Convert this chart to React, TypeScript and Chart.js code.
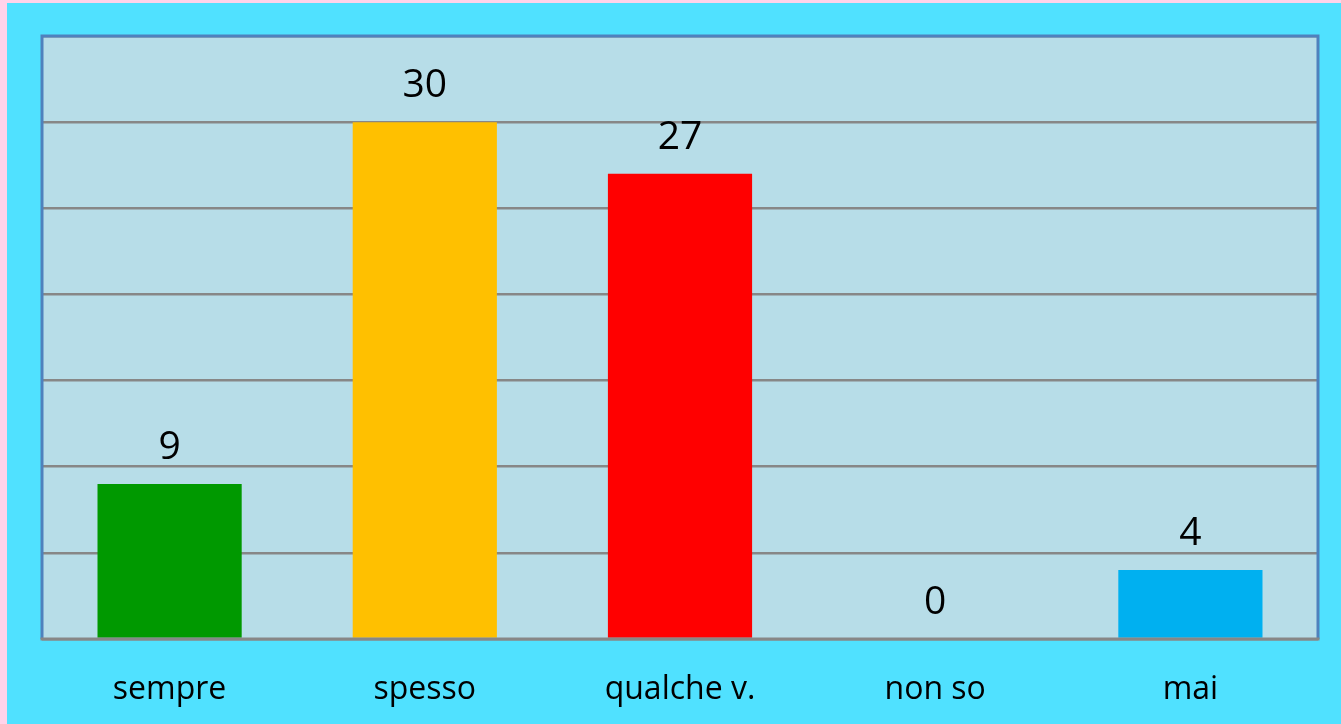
import React, { useEffect, useRef } from "react";
import { Chart, registerables } from "chart.js";

Chart.register(...registerables);

const categories = ["sempre", "spesso", "qualche v.", "non so", "mai"];
const values = [9, 30, 27, 0, 4];
const barColors = ["#009900", "#FFC000", "#FF0000", "#00B0F0", "#00B0F0"];
const yTicks = [0, 5, 10, 15, 20, 25, 30, 35];

const FONT = "'Open Sans', sans-serif";

const bgPlugin = {
  id: "bgPlugin",
  beforeDraw(chart: any) {
    const { ctx, width, height, chartArea } = chart;
    ctx.save();
    ctx.fillStyle = "#FFD3EA";
    ctx.fillRect(0, 0, width, height);
    ctx.fillStyle = "#50E1FF";
    ctx.fillRect(7, 3, width - 7, height - 3);
    ctx.fillStyle = "#B7DDE8";
    ctx.fillRect(chartArea.left, chartArea.top, chartArea.right - chartArea.left, chartArea.bottom - chartArea.top);
    ctx.restore();
  },
  afterDatasetsDraw(chart: any) {
    const { ctx, chartArea } = chart;
    const meta = chart.getDatasetMeta(0);
    ctx.save();
    ctx.fillStyle = "#000000";
    ctx.font = `39px ${FONT}`;
    ctx.textAlign = "center";
    ctx.textBaseline = "alphabetic";
    meta.data.forEach((bar: any, i: number) => {
      ctx.fillText(String(values[i]), bar.x, bar.y - 25);
    });
    ctx.lineWidth = 3;
    ctx.strokeStyle = "#4F81BD";
    ctx.beginPath();
    ctx.moveTo(chartArea.left, chartArea.bottom);
    ctx.lineTo(chartArea.left, chartArea.top);
    ctx.lineTo(chartArea.right, chartArea.top);
    ctx.lineTo(chartArea.right, chartArea.bottom);
    ctx.stroke();
    ctx.strokeStyle = "#878787";
    ctx.beginPath();
    ctx.moveTo(chartArea.left - 1.5, chartArea.bottom);
    ctx.lineTo(chartArea.right + 1.5, chartArea.bottom);
    ctx.stroke();
    ctx.restore();
  },
};

export default function App() {
  const ref = useRef<HTMLCanvasElement>(null);
  useEffect(() => {
    document.body.style.margin = "0";
    document.body.style.overflow = "hidden";
    const chart = new Chart(ref.current!, {
      type: "bar",
      data: {
        labels: categories,
        datasets: [
          {
            data: values,
            backgroundColor: barColors,
            barPercentage: 0.565,
            categoryPercentage: 1,
          },
        ],
      },
      options: {
        responsive: false,
        animation: false,
        layout: { padding: { left: 42, right: 23, top: 36, bottom: 0 } },
        plugins: { legend: { display: false }, tooltip: { enabled: false } },
        scales: {
          x: {
            grid: { display: false, drawTicks: false },
            border: { display: false },
            ticks: {
              color: "#000000",
              font: { family: FONT, size: 32 },
              padding: 32,
              maxRotation: 0,
            },
            afterFit: (s: any) => {
              s.height = 85;
            },
          },
          y: {
            min: 0,
            max: 35,
            afterBuildTicks: (s: any) => {
              s.ticks = yTicks.map((v) => ({ value: v }));
            },
            grid: { color: "#878787", lineWidth: 2.5, drawTicks: false },
            border: { display: false },
            ticks: { display: false },
            afterFit: (s: any) => {
              s.width = 0;
            },
          },
        },
      },
      plugins: [bgPlugin],
    });
    return () => chart.destroy();
  }, []);
  return <canvas ref={ref} width={1341} height={724} style={{ display: "block" }} />;
}
